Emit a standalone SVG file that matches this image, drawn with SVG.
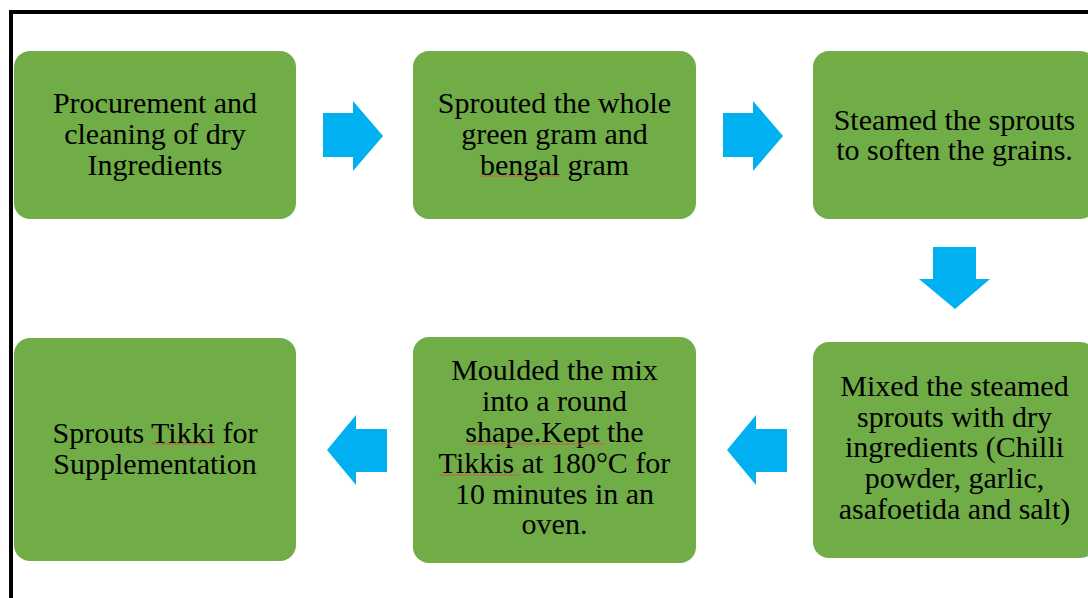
<svg xmlns="http://www.w3.org/2000/svg" width="1088" height="598" viewBox="0 0 1088 598">
  <defs>
    <style>
      .box { fill: #70AD47; }
      .lbl { font-family: "Liberation Serif", "Times New Roman", serif; font-size: 30px; fill: #000; text-anchor: middle; }
      .arrow { fill: #00B0F0; }
      .squiggle { fill: none; stroke: #D9534F; stroke-width: 1; }
    </style>
  </defs>
  <rect width="1088" height="598" fill="#fff"/>
  <!-- outer frame (continues past the right and bottom edges) -->
  <path d="M11,600 V12 H1090" fill="none" stroke="#000" stroke-width="4"/>

  <g id="node-procurement">
    <rect class="box" x="14" y="51" width="282" height="168" rx="16"/>
    <text class="lbl" x="155" y="112.5">Procurement and</text>
    <text class="lbl" x="155" y="143.5">cleaning of dry</text>
    <text class="lbl" x="155" y="174.5">Ingredients</text>
  </g>

  <g id="node-sprouted">
    <rect class="box" x="413" y="51" width="283" height="168" rx="16"/>
    <text class="lbl" x="554.5" y="113">Sprouted the whole</text>
    <text class="lbl" x="554.5" y="144">green gram and</text>
    <text class="lbl" x="554.5" y="174.5">bengal gram</text>
    <path class="squiggle" d="M480,176.5 l2,-1 2,1 2,-1 2,1 2,-1 2,1 2,-1 2,1 2,-1 2,1 2,-1 2,1 2,-1 2,1 2,-1 2,1 2,-1 2,1 2,-1 2,1 2,-1 2,1 2,-1 2,1 2,-1 2,1 2,-1 2,1 2,-1 2,1 2,-1 2,1 2,-1 2,1 2,-1 2,1 2,-1 2,1 2,-1 2,1"/>
  </g>

  <g id="node-steamed">
    <rect class="box" x="813" y="51" width="283" height="168" rx="16"/>
    <text class="lbl" x="954.5" y="129.5">Steamed the sprouts</text>
    <text class="lbl" x="954.5" y="160">to soften the grains.</text>
  </g>

  <g id="node-mixed">
    <rect class="box" x="813" y="342" width="283" height="216" rx="16"/>
    <text class="lbl" x="954.5" y="396">Mixed the steamed</text>
    <text class="lbl" x="954.5" y="426.5">sprouts with dry</text>
    <text class="lbl" x="954.5" y="457">ingredients (Chilli</text>
    <text class="lbl" x="954.5" y="487.5">powder, garlic,</text>
    <text class="lbl" x="954.5" y="518.5">asafoetida and salt)</text>
  </g>

  <g id="node-moulded">
    <rect class="box" x="413" y="337" width="283" height="226" rx="16"/>
    <text class="lbl" x="554.5" y="380">Moulded the mix</text>
    <text class="lbl" x="554.5" y="411">into a round</text>
    <text class="lbl" x="554.5" y="441.5">shape.Kept the</text>
    <text class="lbl" x="554.5" y="472.5">Tikkis at 180°C for</text>
    <text class="lbl" x="554.5" y="503.5">10 minutes in an</text>
    <text class="lbl" x="554.5" y="534">oven.</text>
    <path class="squiggle" d="M466,444.5 l2,-1 2,1 2,-1 2,1 2,-1 2,1 2,-1 2,1 2,-1 2,1 2,-1 2,1 2,-1 2,1 2,-1 2,1 2,-1 2,1 2,-1 2,1 2,-1 2,1 2,-1 2,1 2,-1 2,1 2,-1 2,1 2,-1 2,1 2,-1 2,1 2,-1 2,1 2,-1 2,1 2,-1 2,1 2,-1 2,1 2,-1 2,1 2,-1 2,1 2,-1 2,1 2,-1 2,1 2,-1 2,1 2,-1 2,1 2,-1 2,1 2,-1 2,1 2,-1 2,1 2,-1 2,1 2,-1 2,1 2,-1 2,1 2,-1 2,1 2,-1 2,1 2,-1 2,1"/>
    <path class="squiggle" d="M439,475.5 l2,-1 2,1 2,-1 2,1 2,-1 2,1 2,-1 2,1 2,-1 2,1 2,-1 2,1 2,-1 2,1 2,-1 2,1 2,-1 2,1 2,-1 2,1 2,-1 2,1 2,-1 2,1 2,-1 2,1 2,-1 2,1 2,-1 2,1 2,-1 2,1 2,-1 2,1 2,-1 2,1 2,-1 2,1 2,-1 2,1"/>
  </g>

  <g id="node-tikki">
    <rect class="box" x="14" y="338" width="282" height="223" rx="16"/>
    <text class="lbl" x="155" y="442.5">Sprouts Tikki for</text>
    <text class="lbl" x="155" y="473.5">Supplementation</text>
    <path class="squiggle" d="M151,444.5 l2,-1 2,1 2,-1 2,1 2,-1 2,1 2,-1 2,1 2,-1 2,1 2,-1 2,1 2,-1 2,1 2,-1 2,1 2,-1 2,1 2,-1 2,1 2,-1 2,1 2,-1 2,1 2,-1 2,1 2,-1 2,1 2,-1 2,1 2,-1 2,1"/>
  </g>

  <!-- block arrows between steps -->
  <g id="connectors">
    <polygon class="arrow" points="323,113 353,113 353,101 383,136 353,171 353,157 323,157"/>
    <polygon class="arrow" points="723,113 753,113 753,101 783,136 753,171 753,157 723,157"/>
    <polygon class="arrow" points="933,247 976,247 976,279 990,279 955,309 919,279 933,279"/>
    <polygon class="arrow" points="787,429 756,429 756,415 727,450 756,485 756,472 787,472"/>
    <polygon class="arrow" points="387,429 356,429 356,415 327,450 356,485 356,472 387,472"/>
  </g>
</svg>
